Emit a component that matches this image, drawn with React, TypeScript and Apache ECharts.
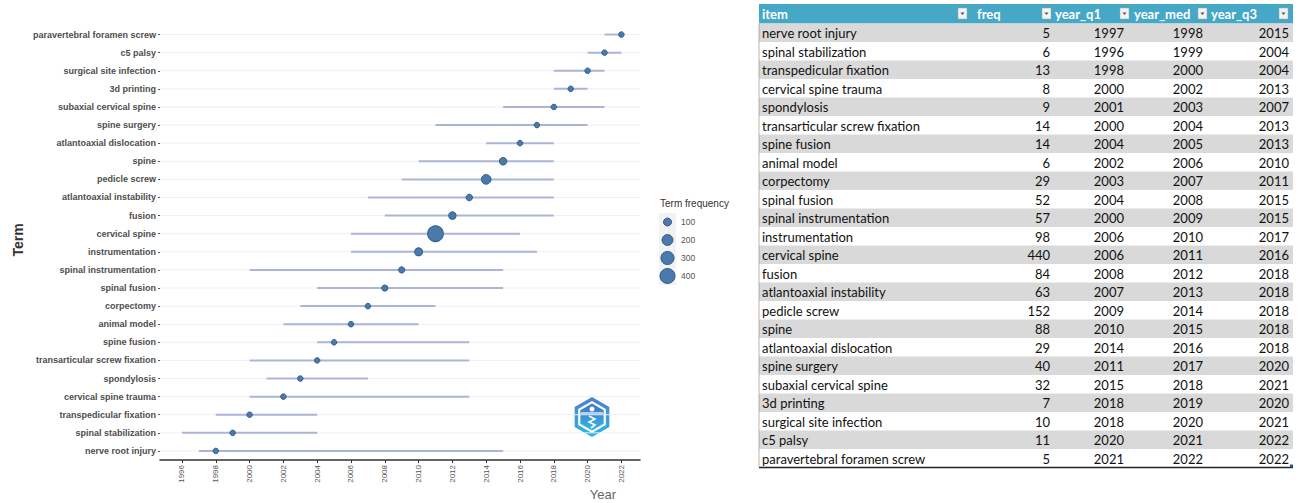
import React, { useEffect, useRef } from "react";
import * as echarts from "echarts";

// Data (bottom row of the plot first; same order as the table, top to bottom)
const terms = [
  "nerve root injury",
  "spinal stabilization",
  "transpedicular fixation",
  "cervical spine trauma",
  "spondylosis",
  "transarticular screw fixation",
  "spine fusion",
  "animal model",
  "corpectomy",
  "spinal fusion",
  "spinal instrumentation",
  "instrumentation",
  "cervical spine",
  "fusion",
  "atlantoaxial instability",
  "pedicle screw",
  "spine",
  "atlantoaxial dislocation",
  "spine surgery",
  "subaxial cervical spine",
  "3d printing",
  "surgical site infection",
  "c5 palsy",
  "paravertebral foramen screw",
];
const freq = [5, 6, 13, 8, 9, 14, 14, 6, 29, 52, 57, 98, 440, 84, 63, 152, 88, 29, 40, 32, 7, 10, 11, 5];
const yearQ1 = [1997, 1996, 1998, 2000, 2001, 2000, 2004, 2002, 2003, 2004, 2000, 2006, 2006, 2008, 2007, 2009, 2010, 2014, 2011, 2015, 2018, 2018, 2020, 2021];
const yearMed = [1998, 1999, 2000, 2002, 2003, 2004, 2005, 2006, 2007, 2008, 2009, 2010, 2011, 2012, 2013, 2014, 2015, 2016, 2017, 2018, 2019, 2020, 2021, 2022];
const yearQ3 = [2015, 2004, 2004, 2013, 2007, 2013, 2013, 2010, 2011, 2015, 2015, 2017, 2016, 2018, 2018, 2018, 2018, 2018, 2020, 2021, 2020, 2021, 2022, 2022];
const xTicks = [1996, 1998, 2000, 2002, 2004, 2006, 2008, 2010, 2012, 2014, 2016, 2018, 2020, 2022];
const legendValues = [100, 200, 300, 400];
const tableHeaders = ["item", "freq", "year_q1", "year_med", "year_q3"];

const DOT_FILL = "#4b79aa";
const DOT_STROKE = "#2f5e90";
const sizeOf = (f: number) => Math.max(5.5, 1 + 0.7 * Math.sqrt(f));

function buildTable(): any[] {
  const els: any[] = [];
  const left = 759;
  const right = 1293;
  const headTop = 4;
  const headH = 19.5;
  const rowTop = 23.5;
  const rowH = 18.5;
  const font = "Lato";
  const fs = 13;
  els.push({ type: "rect", shape: { x: left, y: headTop, width: right - left, height: headH }, style: { fill: "#44a8c6" }, silent: true });
  const headX = [762, 977, 1055, 1134, 1211];
  const btnX = [958, 1042, 1120, 1198, 1279];
  tableHeaders.forEach((h, k) => {
    els.push({ type: "text", x: headX[k], y: headTop + headH / 2 + 0.5, style: { text: h, fontSize: fs, fontWeight: "bold", fontFamily: font, fill: "#ffffff", align: "left", verticalAlign: "middle" }, silent: true });
    els.push({ type: "rect", shape: { x: btnX[k], y: headTop + 4, width: 9, height: 11 }, style: { fill: "#f4f4f4", stroke: "#a0a0a0", lineWidth: 0.5 }, silent: true });
    els.push({ type: "polygon", shape: { points: [[btnX[k] + 2.5, headTop + 8.5], [btnX[k] + 6.5, headTop + 8.5], [btnX[k] + 4.5, headTop + 11]] }, style: { fill: "#555" }, silent: true });
  });
  const numRight = [1050, 1124, 1203, 1289];
  terms.forEach((t, i) => {
    const y = rowTop + i * rowH;
    if (i % 2 === 0) {
      els.push({ type: "rect", shape: { x: left, y, width: right - left, height: rowH }, style: { fill: "#d9d9d9" }, silent: true });
    }
    const cy = y + rowH / 2 + 0.5;
    const txt = (s: string, x: number, align: string) =>
      els.push({ type: "text", x, y: cy, style: { text: s, fontSize: fs, fontFamily: font, fill: "#111", align, verticalAlign: "middle" }, silent: true });
    txt(t, 762, "left");
    txt(String(freq[i]), numRight[0], "right");
    txt(String(yearQ1[i]), numRight[1], "right");
    txt(String(yearMed[i]), numRight[2], "right");
    txt(String(yearQ3[i]), numRight[3], "right");
  });
  const bottom = rowTop + terms.length * rowH;
  els.push({ type: "line", shape: { x1: left, y1: bottom, x2: right, y2: bottom }, style: { stroke: "#222", lineWidth: 1.5 }, silent: true });
  els.push({ type: "line", shape: { x1: left, y1: rowTop, x2: left, y2: bottom }, style: { stroke: "#888", lineWidth: 0.6 }, silent: true });
  els.push({ type: "rect", shape: { x: right - 3, y: bottom - 3, width: 3, height: 3 }, style: { fill: "#2a4fa0" }, silent: true });
  return els;
}

function buildLegend(): any[] {
  const els: any[] = [];
  els.push({ type: "text", x: 660, y: 203, style: { text: "Term frequency", fontSize: 10, fontFamily: "Liberation Sans", fill: "#333", align: "left", verticalAlign: "middle" }, silent: true });
  els.push({ type: "rect", shape: { x: 659, y: 213, width: 17, height: 72 }, style: { fill: "#f2f2f2" }, silent: true });
  legendValues.forEach((v, k) => {
    const cy = 222 + 18 * k;
    els.push({ type: "circle", shape: { cx: 667.5, cy, r: sizeOf(v) / 2 }, style: { fill: DOT_FILL, stroke: DOT_STROKE, lineWidth: 1 }, silent: true });
    els.push({ type: "text", x: 681, y: cy, style: { text: String(v), fontSize: 8.5, fontFamily: "Liberation Sans", fill: "#555", align: "left", verticalAlign: "middle" }, silent: true });
  });
  return els;
}

function hex(cx: number, cy: number, r: number) {
  const pts: number[][] = [];
  for (let k = 0; k < 6; k++) {
    const a = -Math.PI / 2 + (k * Math.PI) / 3;
    pts.push([cx + r * Math.cos(a), cy + r * Math.sin(a)]);
  }
  return pts;
}

function buildLogo(): any[] {
  const cx = 592;
  const cy = 417;
  return [
    { type: "polygon", shape: { points: hex(cx, cy, 20) }, style: { fill: new echarts.graphic.LinearGradient(0, 0, 0, 1, [{ offset: 0, color: "#4a7fd0" }, { offset: 1, color: "#29b6e8" }]) }, silent: true },
    { type: "polygon", shape: { points: hex(cx, cy, 16) }, style: { fill: "#ffffff" }, silent: true },
    { type: "polygon", shape: { points: hex(cx, cy, 13.5) }, style: { fill: new echarts.graphic.LinearGradient(0, 0, 0, 1, [{ offset: 0, color: "#3f72c4" }, { offset: 1, color: "#34b8e6" }]) }, silent: true },
    { type: "line", shape: { x1: cx - 11, y1: cy - 4, x2: cx + 11, y2: cy - 4 }, style: { stroke: "#fff", lineWidth: 1.2 }, silent: true },
    { type: "circle", shape: { cx, cy: cy - 8, r: 2.5 }, style: { fill: "#fff" }, silent: true },
    { type: "polyline", shape: { points: [[cx - 3, cy - 1], [cx + 3, cy + 2], [cx - 3, cy + 5], [cx + 3, cy + 8], [cx - 1, cy + 11]] }, style: { stroke: "#fff", lineWidth: 1.6, fill: null }, silent: true },
  ];
}

export default function App() {
  const ref = useRef<HTMLDivElement>(null);
  useEffect(() => {
    if (!ref.current) return;
    const chart = echarts.init(ref.current, null, { renderer: "svg" });
    const segData = terms.map((t, i) => [yearQ1[i], yearQ3[i], i]);
    const dotData = terms.map((t, i) => [yearMed[i], i, freq[i]]);
    chart.setOption({
      animation: false,
      backgroundColor: "#ffffff",
      grid: { left: 160, width: 480, top: 25.5, height: 434.5, containLabel: false },
      xAxis: {
        type: "value",
        min: 1994.7,
        max: 2023.1,
        axisLine: { show: true, lineStyle: { color: "#333", width: 1.5 } },
        axisTick: { show: true, length: 3, customValues: xTicks, lineStyle: { color: "#333" } },
        axisLabel: { customValues: xTicks, rotate: 90, fontSize: 8, color: "#555", fontFamily: "Liberation Sans", margin: 5, formatter: (v: number) => String(v) },
        splitLine: { show: false },
      },
      yAxis: {
        type: "category",
        data: terms,
        axisLine: { show: false },
        axisTick: { show: true, alignWithLabel: true, length: 2, lineStyle: { color: "#555" } },
        axisLabel: { fontSize: 9, fontWeight: "bold", color: "#4d4d4d", fontFamily: "Liberation Sans", margin: 4 },
        splitLine: { show: false },
      },
      series: [
        {
          type: "custom",
          data: segData,
          encode: { x: [0, 1], y: 2 },
          renderItem: (params: any, api: any) => {
            const p1 = api.coord([api.value(0), api.value(2)]);
            const p2 = api.coord([api.value(1), api.value(2)]);
            const cs = params.coordSys;
            return {
              type: "group",
              children: [
                { type: "line", shape: { x1: cs.x, y1: p1[1], x2: cs.x + cs.width, y2: p1[1] }, style: { stroke: "#eceff4", lineWidth: 1 } },
                { type: "line", shape: { x1: p1[0], y1: p1[1], x2: p2[0], y2: p2[1] }, style: { stroke: "#adb5d7", lineWidth: 2 } },
              ],
            };
          },
          z: 1,
        },
        {
          type: "scatter",
          data: dotData,
          symbol: "circle",
          symbolSize: (v: number[]) => sizeOf(v[2]),
          itemStyle: { color: DOT_FILL, borderColor: DOT_STROKE, borderWidth: 1, opacity: 1 },
          z: 3,
        },
      ],
      graphic: [
        { type: "text", x: 18, y: 240, rotation: Math.PI / 2, style: { text: "Term", fontSize: 14, fontWeight: "bold", fontFamily: "Liberation Sans", fill: "#333", align: "center", verticalAlign: "middle" }, silent: true },
        { type: "text", x: 603, y: 494, style: { text: "Year", fontSize: 13, fontFamily: "Liberation Sans", fill: "#666", align: "center", verticalAlign: "middle" }, silent: true },
        ...buildLegend(),
        ...buildLogo(),
        ...buildTable(),
      ],
    });
    return () => chart.dispose();
  }, []);
  return <div ref={ref} style={{ position: "fixed", left: 0, top: 0, width: 1304, height: 503, background: "#fff" }} />;
}
